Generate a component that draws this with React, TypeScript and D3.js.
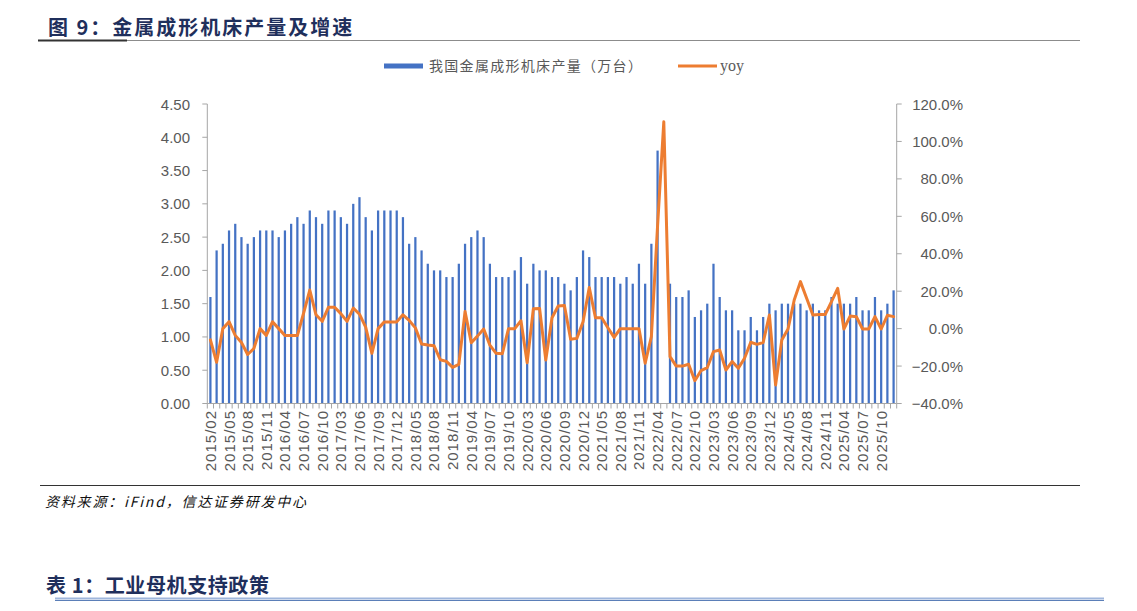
import React from "react";
import * as d3 from "d3";

// Monthly periods (Jan/Feb are reported together, so years after 2015 start in March)
const months: string[] = [
  "2015/02", "2015/03", "2015/04", "2015/05", "2015/06", "2015/07", "2015/08", "2015/09", "2015/10", "2015/11", "2015/12",
  "2016/03", "2016/04", "2016/05", "2016/06", "2016/07", "2016/08", "2016/09", "2016/10", "2016/11", "2016/12",
  "2017/03", "2017/04", "2017/05", "2017/06", "2017/07", "2017/08", "2017/09", "2017/10", "2017/11", "2017/12",
  "2018/03", "2018/04", "2018/05", "2018/06", "2018/07", "2018/08", "2018/09", "2018/10", "2018/11", "2018/12",
  "2019/03", "2019/04", "2019/05", "2019/06", "2019/07", "2019/08", "2019/09", "2019/10", "2019/11", "2019/12",
  "2020/03", "2020/04", "2020/05", "2020/06", "2020/07", "2020/08", "2020/09", "2020/10", "2020/11", "2020/12",
  "2021/03", "2021/04", "2021/05", "2021/06", "2021/07", "2021/08", "2021/09", "2021/10", "2021/11", "2021/12",
  "2022/03", "2022/04", "2022/05", "2022/06", "2022/07", "2022/08", "2022/09", "2022/10", "2022/11", "2022/12",
  "2023/03", "2023/04", "2023/05", "2023/06", "2023/07", "2023/08", "2023/09", "2023/10", "2023/11", "2023/12",
  "2024/03", "2024/04", "2024/05", "2024/06", "2024/07", "2024/08", "2024/09", "2024/10", "2024/11", "2024/12",
  "2025/03", "2025/04", "2025/05", "2025/06", "2025/07", "2025/08", "2025/09", "2025/10", "2025/11", "2025/12",
];

// Output of metal forming machine tools (10k units)
const output: (number | null)[] = [
  1.6, 2.3, 2.4, 2.6, 2.7, 2.5, 2.4, 2.5, 2.6, 2.6, 2.6,
  2.5, 2.6, 2.7, 2.8, 2.7, 2.9, 2.8, 2.7, 2.9, 2.9,
  2.8, 2.7, 3.0, 3.1, 2.8, 2.6, 2.9, 2.9, 2.9, 2.9,
  2.8, 2.4, 2.5, 2.3, 2.1, 2.0, 2.0, 1.9, 1.9, 2.1,
  2.4, 2.5, 2.6, 2.5, 2.1, 1.9, 1.9, 1.9, 2.0, 2.2,
  1.8, 2.1, 2.0, 2.0, 1.9, 1.9, 1.8, 1.7, 1.9, 2.3,
  2.2, 1.9, 1.9, 1.9, 1.9, 1.8, 1.9, 1.8, 2.1, 1.8,
  2.4, 3.8, null, 1.8, 1.6, 1.6, 1.7, 1.3, 1.4, 1.5,
  2.1, 1.6, 1.4, 1.4, 1.1, 1.1, 1.3, 1.1, 1.3, 1.5,
  1.4, 1.5, 1.5, 1.5, 1.5, 1.4, 1.5, 1.4, 1.4, 1.6,
  1.5, 1.5, 1.5, 1.6, 1.4, 1.4, 1.6, 1.4, 1.5, 1.7,
];

// Year-on-year growth (%)
const yoy: number[] = [
  -6.0, -18.0, 0.0, 3.7, -3.6, -7.4, -13.8, -10.6, 0.0, -3.6, 3.7,
  0.0, -3.7, -3.7, -3.7, 8.2, 20.6, 7.4, 3.9, 11.4, 11.4,
  8.0, 3.9, 11.0, 7.7, 0.8, -13.2, 0.0, 3.6, 3.6, 3.6,
  7.4, 4.4, 0.4, -8.2, -8.7, -9.1, -16.6, -17.5, -20.7, -19.1,
  9.1, -7.5, -4.0, -0.2, -8.8, -13.2, -13.4, 0.0, 0.0, 4.2,
  -18.2, 10.6, 10.8, -16.8, 5.8, 12.1, 12.4, -5.7, -5.2, 3.7,
  22.0, 5.8, 5.8, 0.5, -4.7, 0.0, 0.0, 0.0, 0.0, -18.5,
  -4.3, 55.0, 110.5, -15.0, -20.0, -20.0, -19.0, -27.8, -22.4, -20.8,
  -12.3, -11.4, -22.1, -17.6, -21.2, -15.8, -7.3, -8.4, -7.4, 7.3,
  -30.1, -6.1, -0.2, 15.3, 25.1, 16.2, 7.3, 7.6, 7.6, 14.4,
  21.5, -0.2, 6.7, 6.4, -0.2, -0.2, 6.4, -0.2, 7.1, 6.4,
];

const leftTicks: number[] = [0, 0.5, 1, 1.5, 2, 2.5, 3, 3.5, 4, 4.5];
const rightTicks: number[] = [-40, -20, 0, 20, 40, 60, 80, 100, 120];

const BAR = "#4472C4";
const LINE = "#ED7D31";
const AXIS = "#a6a6a6";
const LABEL = "#595959";
const NAVY = "#1f2f5c";

export default function App() {
  const W = 1137;
  const H = 611;
  const left = 207.3;
  const right = 896.7;
  const top = 104;
  const bottom = 403.5;

  const x = d3
    .scaleBand<string>()
    .domain(months)
    .range([left, right])
    .paddingInner(0.64)
    .paddingOuter(0.32);
  const step = x.step();
  const cx = (m: string) => (x(m) as number) + x.bandwidth() / 2;

  const yL = d3.scaleLinear().domain([0, 4.5]).range([bottom, top]);
  const yR = d3.scaleLinear().domain([-40, 120]).range([bottom, top]);

  const linePath = d3
    .line<number>()
    .x((_, i) => cx(months[i]))
    .y((d) => yR(d))(yoy) as string;

  const fmtL = d3.format(".2f");
  const fmtR = (v: number) => d3.format(".1f")(v) + "%";
  const numFont = "'Liberation Sans', Arial, sans-serif";
  const cjkFont = "'Noto Sans CJK SC', sans-serif";

  return (
    <svg
      width={W}
      height={H}
      viewBox={`0 0 ${W} ${H}`}
      style={{ position: "absolute", left: 0, top: 0, background: "#fff" }}
    >
      <rect x={0} y={0} width={W} height={H} fill="#fff" />

      {/* figure heading */}
      <text x={48} y={35} fontFamily={cjkFont} fontWeight={700} fontSize={20} letterSpacing={2} fill={NAVY}>
        图 9：金属成形机床产量及增速
      </text>
      <line x1={127} x2={1080} y1={40.5} y2={40.5} stroke="#8c8c8c" strokeWidth={1.2} />
      <line x1={38} x2={127} y1={40.5} y2={40.5} stroke="#333" strokeWidth={2} />

      {/* legend */}
      <rect x={384} y={63.5} width={39} height={5} fill={BAR} />
      <text x={429} y={71} fontFamily={cjkFont} fontSize={14} letterSpacing={1.3} fill={LABEL}>
        我国金属成形机床产量（万台）
      </text>
      <line x1={678} x2={717} y1={66} y2={66} stroke={LINE} strokeWidth={3} />
      <text x={720} y={71} fontFamily="'Liberation Serif', 'Times New Roman', serif" fontSize={16} fill={LABEL}>
        yoy
      </text>

      {/* bars */}
      <g>
        {months.map((m, i) =>
          output[i] == null ? null : (
            <rect
              key={m}
              x={x(m)}
              y={yL(output[i] as number)}
              width={x.bandwidth()}
              height={bottom - yL(output[i] as number)}
              fill={BAR}
            />
          )
        )}
      </g>

      {/* axes */}
      <g stroke={AXIS} strokeWidth={1}>
        <line x1={left} x2={left} y1={top} y2={bottom} />
        <line x1={right} x2={right} y1={top} y2={bottom} />
        <line x1={left} x2={right} y1={bottom} y2={bottom} />
        {leftTicks.map((t) => (
          <line key={"lt" + t} x1={left - 5} x2={left} y1={yL(t)} y2={yL(t)} />
        ))}
        {rightTicks.map((t) => (
          <line key={"rt" + t} x1={right} x2={right + 5} y1={yR(t)} y2={yR(t)} />
        ))}
        {d3.range(months.length + 1).map((i) => (
          <line key={"bt" + i} x1={left + i * step} x2={left + i * step} y1={bottom} y2={bottom + 5} />
        ))}
      </g>

      {/* yoy line */}
      <path d={linePath} fill="none" stroke={LINE} strokeWidth={3} strokeLinejoin="round" strokeLinecap="round" />

      {/* axis labels */}
      <g fontFamily={numFont} fontSize={15} fill={LABEL}>
        {leftTicks.map((t) => (
          <text key={"ll" + t} x={190} y={yL(t)} textAnchor="end" dominantBaseline="central">
            {fmtL(t)}
          </text>
        ))}
        {rightTicks.map((t) => (
          <text key={"rl" + t} x={963} y={yR(t)} textAnchor="end" dominantBaseline="central">
            {fmtR(t)}
          </text>
        ))}
      </g>
      <g fontFamily={numFont} fontSize={15} letterSpacing={1} fill={LABEL}>
        {months.map((m, i) =>
          i % 3 === 0 ? (
            <text
              key={"xl" + m}
              transform={`translate(${cx(m)},${410}) rotate(-90)`}
              textAnchor="end"
              dominantBaseline="central"
            >
              {m}
            </text>
          ) : null
        )}
      </g>

      {/* source note */}
      <line x1={40} x2={1080} y1={485.5} y2={485.5} stroke="#333" strokeWidth={1.2} />
      <text x={45} y={507} fontFamily={cjkFont} fontStyle="italic" fontSize={14} letterSpacing={1.8} fill="#111">
        资料来源：iFind，信达证券研发中心
      </text>

      {/* next table heading */}
      <text x={46} y={593} fontFamily={cjkFont} fontWeight={700} fontSize={20} letterSpacing={0.6} fill={NAVY}>
        表 1：工业母机支持政策
      </text>
      <line x1={55} x2={1104} y1={598.5} y2={598.5} stroke="#9fb6dc" strokeWidth={2} />
      <line x1={55} x2={1104} y1={600.5} y2={600.5} stroke="#5b7fb8" strokeWidth={1.2} />
    </svg>
  );
}
